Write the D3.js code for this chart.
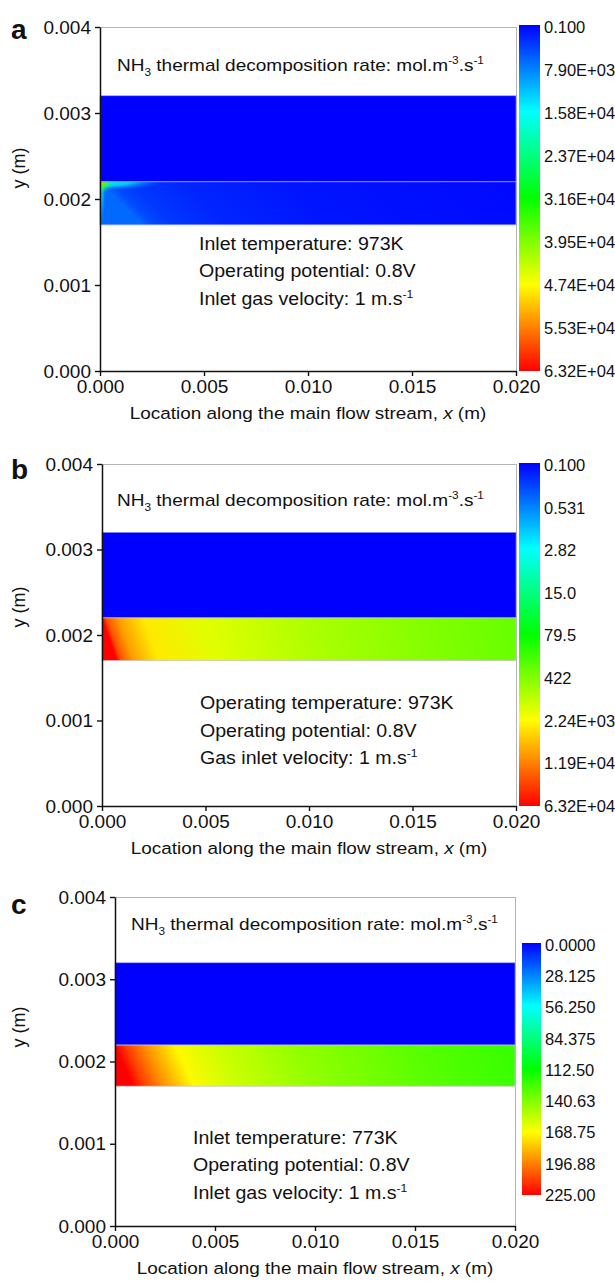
<!DOCTYPE html>
<html><head><meta charset="utf-8">
<script src="https://cdn.jsdelivr.net/npm/d3@7"></script>
<style>
body{margin:0;background:#fff}
svg{display:block}
text{font-family:"Liberation Sans",Arial,Helvetica,sans-serif;fill:#111}
</style>
</head><body>
<svg id="chart" width="615" height="1281"></svg>
<script>
// ================= DATA =================
const xTicks = [0, 0.005, 0.010, 0.015, 0.020];
const yTicks = [0, 0.001, 0.002, 0.003, 0.004];
const xDomain = [0, 0.020];
const yDomain = [0, 0.004];
const upperChannel = [0.0022, 0.0032];   // y range of upper (blue) channel
const lowerChannel = [0.0017, 0.0022];   // y range of lower channel
const channelLength = [0, 0.020];

const rainbow = ["#0000ff", "#00ffff", "#00ff00", "#ffff00", "#ff0000"];

// colour-bar labels / values
const cbarALabels = ["0.100","7.90E+03","1.58E+04","2.37E+04","3.16E+04","3.95E+04","4.74E+04","5.53E+04","6.32E+04"];
const cbarAValues = [0.1, 7900, 15800, 23700, 31600, 39500, 47400, 55300, 63200];
const cbarBLabels = ["0.100","0.531","2.82","15.0","79.5","422","2.24E+03","1.19E+04","6.32E+04"];
const cbarBValues = [0.1, 0.531, 2.82, 15.0, 79.5, 422, 2240, 11900, 63200];
const cbarCLabels = ["0.0000","28.125","56.250","84.375","112.50","140.63","168.75","196.88","225.00"];
const cbarCValues = [0, 28.125, 56.25, 84.375, 112.5, 140.63, 168.75, 196.88, 225];

// field values in the upper channel (uniform)
const upperValueA = 0.1, upperValueB = 0.1, upperValueC = 0;

const fieldAX = [0, 0.0005, 0.0015, 0.004, 0.009, 0.020];
const fieldAV = [6500, 4600, 3400, 2300, 1300, 500];
const fieldBX = [0, 0.0002, 0.0008, 0.002, 0.005, 0.010, 0.016, 0.020];
const fieldBV = [63200, 22000, 8000, 3000, 1500, 750, 420, 300];
const fieldCX = [0, 0.0005, 0.0015, 0.003, 0.005, 0.009, 0.015, 0.020];
const fieldCV = [225, 212, 193, 170, 158, 145, 132, 124];

// panel a: local hot spots at the inlet corner (x, y, half-width, half-height, values centre->edge)
const spotsA = [
  {x: 0, y: 0.0022, rx: 0.0030, ry: 0.00010, v: [22000, 14000, 7000]},
  {x: 0, y: 0.0022, rx: 0.00030, ry: 0.0006, v: [18000, 12000, 6000]},
  {x: 0, y: 0.0022, rx: 0.0006, ry: 0.00013, v: [52000, 36000, 20000]}
];

// texts
const titleParts = [{t:"NH"},{t:"3",sub:true},{t:" thermal decomposition rate: mol.m"},{t:"-3",sup:true},{t:".s"},{t:"-1",sup:true}];
const notesA = [[{t:"Inlet temperature: 973K"}],[{t:"Operating potential: 0.8V"}],[{t:"Inlet gas velocity: 1 m.s"},{t:"-1",sup:true}]];
const notesB = [[{t:"Operating temperature: 973K"}],[{t:"Operating potential: 0.8V"}],[{t:"Gas inlet velocity: 1 m.s"},{t:"-1",sup:true}]];
const notesC = [[{t:"Inlet temperature: 773K"}],[{t:"Operating potential: 0.8V"}],[{t:"Inlet gas velocity: 1 m.s"},{t:"-1",sup:true}]];
const xLabelParts = [{t:"Location along the main flow stream, "},{t:"x",it:true},{t:" (m)"}];

// ================= LAYOUT =================
const panels = [
  {id:"a", letter:"a", L:100, R:516, T:27, B:371, cb:{x:519, w:21, T:25, B:371}, scaleType:"linear",
   cbLabels:cbarALabels, cbValues:cbarAValues, upper:upperValueA, fx:fieldAX, fv:fieldAV, slant:1.0, spots:spotsA,
   notes:notesA, notesX:199, notesY:[250,277,305], titleX:117, titleY:71, letterY:39, ylabY:168},
  {id:"b", letter:"b", L:102, R:516, T:464, B:806, cb:{x:519, w:21, T:463, B:806}, scaleType:"log",
   cbLabels:cbarBLabels, cbValues:cbarBValues, upper:upperValueB, fx:fieldBX, fv:fieldBV, slant:0.35, spots:[],
   notes:notesB, notesX:200, notesY:[709,737,764], titleX:117, titleY:506, letterY:479, ylabY:607},
  {id:"c", letter:"c", L:115, R:515, T:897, B:1226, cb:{x:522, w:19, T:943, B:1195}, scaleType:"linear",
   cbLabels:cbarCLabels, cbValues:cbarCValues, upper:upperValueC, fx:fieldCX, fv:fieldCV, slant:0.45, spots:[],
   notes:notesC, notesX:193, notesY:[1144,1171,1199], titleX:131, titleY:930, letterY:914, ylabY:1027}
];

const svg = d3.select("#chart");
const defs = svg.append("defs");
const rampT = d3.scaleLinear().domain([0, 0.25, 0.5, 0.75, 1]).range(rainbow).interpolate(d3.interpolateRgb);

function richText(g, x, y, size, anchor, parts, sx) {
  const t = g.append("text")
    .attr("transform", `translate(${x},${y}) scale(${sx||1},1)`)
    .attr("font-size", size).attr("text-anchor", anchor);
  let shift = 0;
  parts.forEach(p => {
    const ts = t.append("tspan").text(p.t);
    let target = 0, fs = size;
    if (p.sup) { target = -0.42 * size; fs = 0.62 * size; }
    if (p.sub) { target = 0.32 * size; fs = 0.62 * size; }
    ts.attr("dy", target - shift).attr("font-size", fs);
    if (p.it) ts.attr("font-style", "italic");
    shift = target;
  });
  return t;
}

panels.forEach(P => {
  const g = svg.append("g");
  const x = d3.scaleLinear().domain(xDomain).range([P.L, P.R]);
  const y = d3.scaleLinear().domain(yDomain).range([P.B, P.T]);
  const vMin = d3.min(P.cbValues), vMax = d3.max(P.cbValues);
  const norm = (P.scaleType === "log" ? d3.scaleLog() : d3.scaleLinear()).domain([vMin, vMax]).range([0, 1]).clamp(true);
  const color = v => rampT(norm(v));

  // frame (top/right light grey)
  g.append("line").attr("x1", P.L).attr("x2", P.R).attr("y1", P.T + 0.5).attr("y2", P.T + 0.5).attr("stroke", "#b4b4b4").attr("stroke-width", 1);
  g.append("line").attr("x1", P.R + 0.5).attr("x2", P.R + 0.5).attr("y1", P.T).attr("y2", P.B).attr("stroke", "#b4b4b4").attr("stroke-width", 1);

  // upper channel
  g.append("rect")
    .attr("x", x(channelLength[0])).attr("width", x(channelLength[1]) - x(channelLength[0]))
    .attr("y", y(upperChannel[1])).attr("height", y(upperChannel[0]) - y(upperChannel[1]))
    .attr("fill", color(P.upper)).attr("stroke", "#8f95ff").attr("stroke-width", 0.6);

  // lower channel gradient
  const yTop = y(lowerChannel[1]);
  const ang = Math.atan(P.slant) * 180 / Math.PI;
  const lg = defs.append("linearGradient").attr("id", "lg" + P.id)
    .attr("gradientUnits", "userSpaceOnUse")
    .attr("x1", x(channelLength[0])).attr("x2", x(channelLength[1]))
    .attr("y1", yTop).attr("y2", yTop)
    .attr("gradientTransform", `translate(${-yTop * P.slant},0) skewX(${ang})`);
  P.fx.forEach((xv, i) => {
    lg.append("stop").attr("offset", (xv - channelLength[0]) / (channelLength[1] - channelLength[0]))
      .attr("stop-color", color(P.fv[i]));
  });
  const lowRect = {
    x: x(channelLength[0]), w: x(channelLength[1]) - x(channelLength[0]),
    y: y(lowerChannel[1]), h: y(lowerChannel[0]) - y(lowerChannel[1])
  };
  defs.append("clipPath").attr("id", "clip" + P.id).append("rect")
    .attr("x", lowRect.x).attr("y", lowRect.y).attr("width", lowRect.w).attr("height", lowRect.h);
  g.append("rect").attr("x", lowRect.x).attr("y", lowRect.y).attr("width", lowRect.w).attr("height", lowRect.h)
    .attr("fill", `url(#lg${P.id})`);
  const sg = g.append("g").attr("clip-path", `url(#clip${P.id})`);
  P.spots.forEach((s, i) => {
    const rg = defs.append("radialGradient").attr("id", `rg${P.id}${i}`);
    rg.append("stop").attr("offset", 0).attr("stop-color", color(s.v[0])).attr("stop-opacity", 1);
    rg.append("stop").attr("offset", 0.5).attr("stop-color", color(s.v[1])).attr("stop-opacity", 0.85);
    rg.append("stop").attr("offset", 1).attr("stop-color", color(s.v[2])).attr("stop-opacity", 0);
    sg.append("ellipse")
      .attr("cx", x(s.x)).attr("cy", y(s.y))
      .attr("rx", x(s.rx) - x(0)).attr("ry", y(0) - y(s.ry))
      .attr("fill", `url(#rg${P.id}${i})`);
  });
  g.append("rect").attr("x", lowRect.x).attr("y", lowRect.y).attr("width", lowRect.w).attr("height", lowRect.h)
    .attr("fill", "none").attr("stroke", P.id === "a" ? "#8c9cff" : "#c4c4c4").attr("stroke-width", 0.8);

  // axes
  const ax = g.append("g").attr("transform", `translate(0,${P.B})`)
    .call(d3.axisBottom(x).tickValues(xTicks).tickFormat(d3.format(".3f")).tickSize(5).tickSizeOuter(0));
  const ay = g.append("g").attr("transform", `translate(${P.L},0)`)
    .call(d3.axisLeft(y).tickValues(yTicks).tickFormat(d3.format(".3f")).tickSize(5).tickSizeOuter(0));
  [ax, ay].forEach(a => {
    a.select(".domain").attr("stroke", "#111").attr("stroke-width", 1.5);
    a.selectAll(".tick line").attr("stroke", "#111").attr("stroke-width", 1.4);
    a.selectAll(".tick text").attr("font-size", 19).attr("fill", "#111")
      .attr("font-family", '"Liberation Sans",Arial,sans-serif');
  });
  ax.selectAll(".tick text").attr("dy", "0.9em").attr("y", 5);
  ay.selectAll(".tick text").attr("x", -9);

  // colour bar
  const cg = defs.append("linearGradient").attr("id", "cb" + P.id).attr("x1", 0).attr("x2", 0).attr("y1", 0).attr("y2", 1);
  rainbow.forEach((c, i) => cg.append("stop").attr("offset", i / (rainbow.length - 1)).attr("stop-color", c));
  g.append("rect").attr("x", P.cb.x).attr("y", P.cb.T).attr("width", P.cb.w).attr("height", P.cb.B - P.cb.T)
    .attr("fill", `url(#cb${P.id})`);
  const cbY = (P.scaleType === "log" ? d3.scaleLog() : d3.scaleLinear()).domain([vMin, vMax]).range([P.cb.T + 2, P.cb.B]);
  P.cbLabels.forEach((lab, i) => {
    g.append("text").attr("x", P.cb.x + P.cb.w + 4).attr("y", cbY(P.cbValues[i])).attr("dy", "0.36em")
      .attr("font-size", 16.5).text(lab);
  });

  // texts
  richText(g, P.titleX, P.titleY, 17, "start", titleParts, 1.12);
  P.notes.forEach((n, i) => richText(g, P.notesX, P.notesY[i], 17.5, "start", n, 1.12));
  richText(g, (P.L + P.R) / 2, P.B + 48, 17.2, "middle", xLabelParts, 1.1);
  g.append("text").attr("transform", `translate(25,${P.ylabY}) rotate(-90)`).attr("text-anchor", "middle")
    .attr("font-size", 18).text("y (m)");
  g.append("text").attr("x", 11).attr("y", P.letterY).attr("font-size", 28).attr("font-weight", "bold").text(P.letter);
});
</script>
</body></html>
